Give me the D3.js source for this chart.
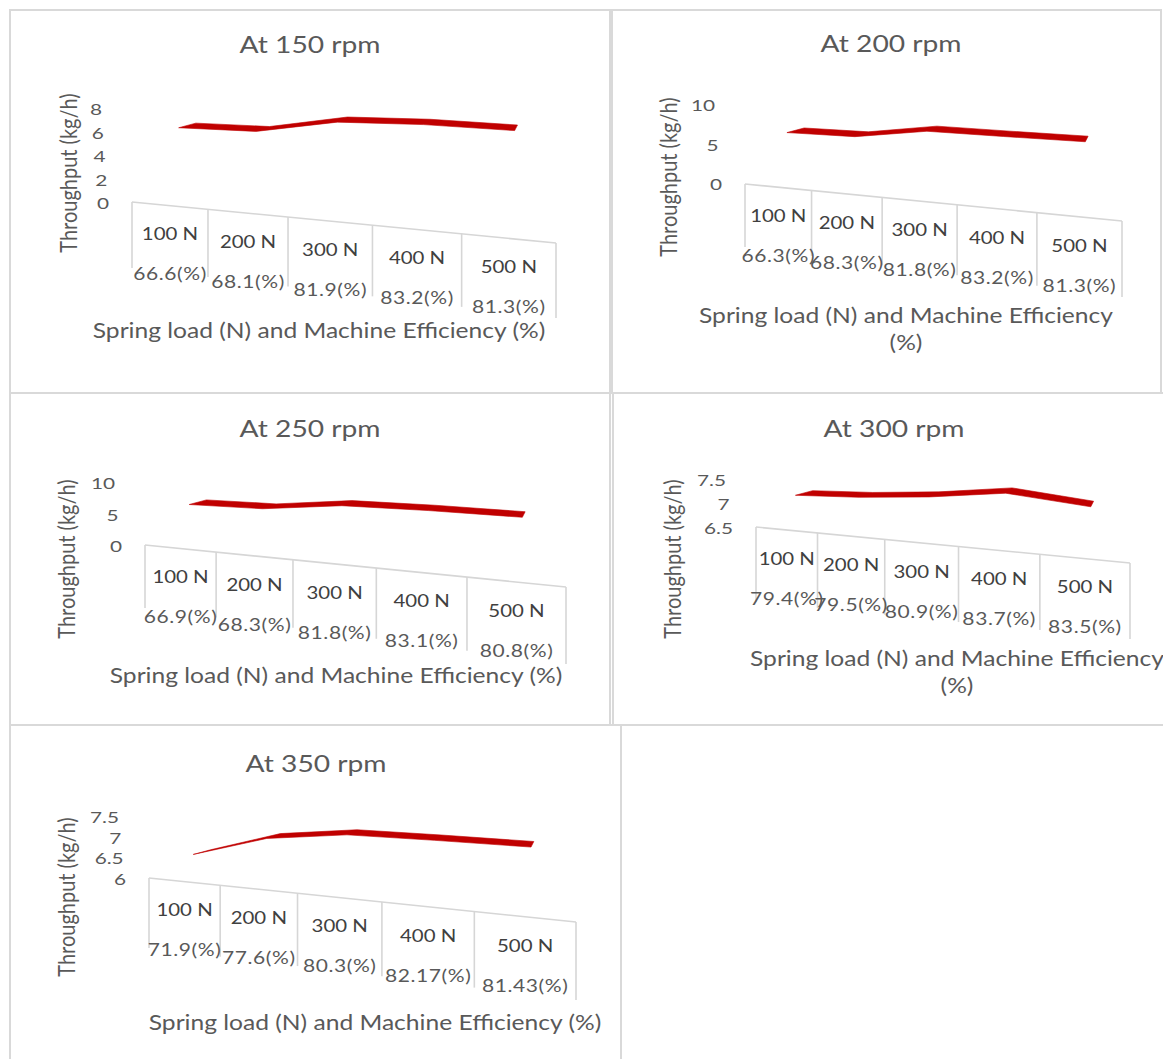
<!DOCTYPE html>
<html>
<head>
<meta charset="utf-8">
<script src="https://cdn.jsdelivr.net/npm/d3@7"></script>
<style>
  html, body { margin: 0; padding: 0; background: #ffffff; }
  svg { display: block; }
  text { font-family: Lato, "Open Sans", sans-serif; }
</style>
</head>
<body>
<svg id="chart" width="1163" height="1059"></svg>
<script>
// ---- data ----
const loads = ["100 N", "200 N", "300 N", "400 N", "500 N"];
const rpmTitles = ["At 150 rpm", "At 200 rpm", "At 250 rpm", "At 300 rpm", "At 350 rpm"];

// machine efficiency (%) per spring load
const eff150 = [66.6, 68.1, 81.9, 83.2, 81.3];
const eff200 = [66.3, 68.3, 81.8, 83.2, 81.3];
const eff250 = [66.9, 68.3, 81.8, 83.1, 80.8];
const eff300 = [79.4, 79.5, 80.9, 83.7, 83.5];
const eff350 = [71.9, 77.6, 80.3, 82.17, 81.43];

// throughput (kg/h) per spring load
const thr150 = [6.6, 6.3, 7.1, 6.9, 6.4];
const thr200 = [6.8, 6.3, 7.0, 6.35, 5.7];
const thr250 = [6.95, 6.3, 6.8, 6.05, 5.0];
const thr300 = [7.23, 7.19, 7.2, 7.28, 7.0];
const thr350 = [6.65, 7.04, 7.13, 7.0, 6.84];

// value axis ticks
const ticks150 = [0, 2, 4, 6, 8];
const ticks200 = [0, 5, 10];
const ticks250 = [0, 5, 10];
const ticks300 = [6.5, 7, 7.5];
const ticks350 = [6, 6.5, 7, 7.5];

const yTitle = "Throughput (kg/h)";
const xTitle = "Spring load (N) and Machine Efficiency (%)";
const xTitleWrapped = ["Spring load (N) and Machine Efficiency", "(%)"];

// ---- layout of the five chart areas ----
const panels = [
  { title: rpmTitles[0], eff: eff150, thr: thr150, ticks: ticks150,
    frame: [10, 10, 600, 383], titleAt: [310, 44], yTitleAt: [68, 173],
    xTitle: [xTitle], xTitleAt: [319, 330],
    floor: { x0: 132, x1: 556, yL: 202, yR: 243, dL: 66, dR: 75, warp: 1.145 },
    axis: { yMin: 203, yMax: 109 } },
  { title: rpmTitles[1], eff: eff200, thr: thr200, ticks: ticks200,
    frame: [612, 10, 549, 383], titleAt: [891, 43], yTitleAt: [668, 177],
    xTitle: xTitleWrapped, xTitleAt: [906, 315],
    floor: { x0: 745, x1: 1122, yL: 184, yR: 221, dL: 63, dR: 76, warp: 1.166 },
    axis: { yMin: 184, yMax: 105 } },
  { title: rpmTitles[2], eff: eff250, thr: thr250, ticks: ticks250,
    frame: [10, 393, 600, 332], titleAt: [310, 428], yTitleAt: [66, 559],
    xTitle: [xTitle], xTitleAt: [336, 675],
    floor: { x0: 145, x1: 566, yL: 545, yR: 587, dL: 63, dR: 77, warp: 1.23 },
    axis: { yMin: 546, yMax: 483 } },
  { title: rpmTitles[3], eff: eff300, thr: thr300, ticks: ticks300,
    frame: [613, 393, 570, 332], titleAt: [894, 428], yTitleAt: [672, 559],
    xTitle: xTitleWrapped, xTitleAt: [957, 658],
    floor: { x0: 756, x1: 1130, yL: 527, yR: 563, dL: 75, dR: 76, warp: 1.27 },
    axis: { yMin: 528, yMax: 480 } },
  { title: rpmTitles[4], eff: eff350, thr: thr350, ticks: ticks350,
    frame: [10, 725, 611, 345], titleAt: [316, 763], yTitleAt: [66, 897],
    xTitle: [xTitle], xTitleAt: [375, 1022],
    floor: { x0: 149, x1: 576, yL: 878, yR: 922, dL: 70, dR: 78, warp: 1.25 },
    axis: { yMin: 879, yMax: 817 } }
];

const TEXT = "#595959";
const TEXT_DARK = "#404040";
const GRID = "#d6d6d6";
const RIBBON = "#c00000";
const WIDE = 1.2;       // glyphs are set wide, as in the source document

const svg = d3.select("#chart");

// horizontal text, widened about its anchor point
function label(g, x, y, str, size, opts = {}) {
  const sx = opts.sx || WIDE;
  const t = g.append("text")
    .attr("transform", `translate(${x},${y}) scale(${sx},1)`)
    .attr("text-anchor", opts.anchor || "middle")
    .attr("dominant-baseline", "central")
    .attr("font-size", size)
    .attr("fill", opts.fill || TEXT)
    .text(str);
  if (opts.spacing) t.attr("letter-spacing", opts.spacing);
  return t;
}

function drawPanel(p) {
  const g = svg.append("g");
  const f = p.floor;

  // chart area border
  g.append("rect")
    .attr("x", p.frame[0]).attr("y", p.frame[1])
    .attr("width", p.frame[2]).attr("height", p.frame[3])
    .attr("fill", "none").attr("stroke", "#d9d9d9").attr("stroke-width", 2);

  // title
  label(g, p.titleAt[0], p.titleAt[1], p.title, 23.5);

  // category positions with a perspective warp (cells widen toward the viewer)
  const a = f.warp;
  const idx = d3.scaleLinear().domain([0, loads.length]).range([0, 1]);
  const px = d3.scaleLinear().domain([0, 1]).range([f.x0, f.x1]);
  const edgeX = i => { const u = idx(i); return px(u / (a - (a - 1) * u)); };
  const centerX = i => (edgeX(i) + edgeX(i + 1)) / 2;
  const topY = d3.scaleLinear().domain([f.x0, f.x1]).range([f.yL, f.yR]);
  const depth = d3.scaleLinear().domain([f.x0, f.x1]).range([f.dL, f.dR]);

  // category label frame
  g.append("line")
    .attr("x1", f.x0).attr("y1", topY(f.x0))
    .attr("x2", f.x1).attr("y2", topY(f.x1))
    .attr("stroke", GRID).attr("stroke-width", 1.6);
  d3.range(loads.length + 1).forEach(i => {
    const x = edgeX(i);
    g.append("line")
      .attr("x1", x).attr("y1", topY(x))
      .attr("x2", x).attr("y2", topY(x) + depth(x))
      .attr("stroke", GRID).attr("stroke-width", 1.6);
  });

  // two-level category labels
  loads.forEach((name, i) => {
    const cx = centerX(i);
    label(g, cx, topY(cx) + 28, name, 17, { fill: TEXT_DARK });
    label(g, cx, topY(cx) + 68, p.eff[i] + "(%)", 17.5, { spacing: 0.5 });
  });

  // value axis labels (slanted with the wall edge)
  const lo = p.ticks[0], hi = p.ticks[p.ticks.length - 1];
  const y = d3.scaleLinear().domain([lo, hi]).range([p.axis.yMin, p.axis.yMax]);
  const axisX = d3.scaleLinear().domain([lo, hi]).range([f.x0 - 23, f.x0 - 30]);
  p.ticks.forEach(t => {
    label(g, axisX(t), y(t), String(t), 16, { anchor: "end", sx: 1.3 });
  });

  // axis titles
  g.append("text")
    .attr("transform", `translate(${p.yTitleAt[0]},${p.yTitleAt[1]}) scale(${WIDE},1) rotate(-90)`)
    .attr("text-anchor", "middle").attr("dominant-baseline", "central")
    .attr("font-size", 20).attr("fill", TEXT)
    .text(yTitle);
  p.xTitle.forEach((line, k) => {
    label(g, p.xTitleAt[0], p.xTitleAt[1] + k * 27, line, 20.5);
  });

  // 3-D line: a ribbon whose depth vector shrinks toward the vanishing point
  const pts = p.thr.map((v, i) => {
    const u = idx(i + 0.5);
    const cx = centerX(i) + 18.5 - 12.5 * u;
    const cy = y(v);
    const dx = 19 - 18 * u, dy = -4.5 - 1.2 * u;
    return { front: [cx - dx / 2, cy - dy / 2], back: [cx + dx / 2, cy + dy / 2] };
  });
  const outline = pts.map(d => d.front).concat(pts.map(d => d.back).reverse());
  g.append("path")
    .attr("d", d3.line()(outline) + "Z")
    .attr("fill", RIBBON).attr("stroke", RIBBON).attr("stroke-width", 0.6)
    .attr("stroke-linejoin", "round");
}

panels.forEach(drawPanel);
</script>
</body>
</html>
